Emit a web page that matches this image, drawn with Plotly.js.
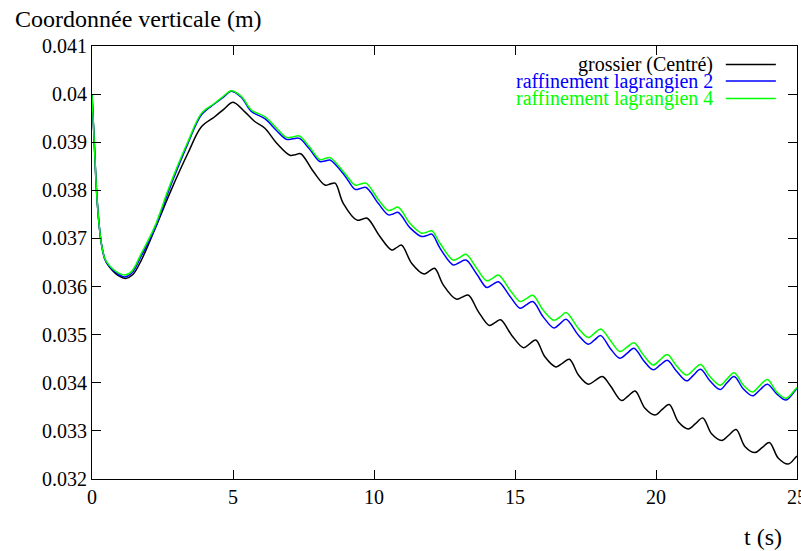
<!DOCTYPE html>
<html>
<head>
<meta charset="utf-8">
<script src="https://cdn.plot.ly/plotly-3.0.1.min.js"></script>
<style>html,body{margin:0;padding:0;background:#fff;}#chart{width:801px;height:551px;}</style>
</head>
<body>
<div id="chart"></div>
<script>
// Series names
const seriesNames = ["grossier (Centré)", "raffinement lagrangien 2", "raffinement lagrangien 4"];
const seriesColors = ["#000000", "#0000ff", "#00ff00"];

// grossier (Centré)
const tGros = [0, 0.08, 0.16, 0.25, 0.33, 0.45, 0.6, 0.75, 0.95, 1.19, 1.45, 1.75, 2.22, 2.81, 3.40, 3.88, 4.35, 4.70, 5.0, 5.42, 5.77, 6.13, 6.55, 7.02, 7.21, 7.4, 7.85, 8.26, 8.44, 8.62, 8.91, 9.4, 9.58, 9.76, 10.21, 10.63, 10.8, 10.98, 11.34, 11.78, 11.96, 12.15, 12.46, 12.91, 13.13, 13.35, 13.7, 14.09, 14.29, 14.49, 14.88, 15.3, 15.52, 15.74, 16.06, 16.45, 16.69, 16.93, 17.25, 17.6, 17.85, 18.1, 18.37, 18.78, 19.02, 19.26, 19.61, 19.96, 20.21, 20.47, 20.79, 21.15, 21.4, 21.66, 21.97, 22.33, 22.58, 22.84, 23.16, 23.51, 23.76, 24.02, 24.34, 24.69, 24.95, 25.0];
const vGros = [0.0400, 0.0390, 0.0380, 0.0373, 0.0369, 0.03658, 0.03642, 0.03632, 0.03622, 0.03617, 0.03625, 0.03655, 0.03718, 0.03801, 0.03877, 0.03932, 0.03953, 0.03970, 0.03983, 0.03963, 0.03943, 0.03929, 0.03898, 0.03873, 0.03874, 0.03876, 0.03839, 0.03811, 0.03813, 0.03815, 0.03773, 0.03738, 0.03740, 0.03742, 0.03704, 0.03676, 0.03681, 0.03686, 0.03648, 0.03626, 0.03632, 0.03638, 0.03603, 0.03574, 0.03578, 0.03582, 0.03548, 0.03519, 0.03525, 0.03531, 0.03499, 0.03473, 0.03481, 0.03489, 0.03454, 0.03433, 0.03441, 0.03449, 0.03416, 0.03397, 0.03405, 0.03413, 0.03395, 0.03363, 0.03373, 0.03383, 0.03347, 0.03333, 0.03344, 0.03355, 0.03319, 0.03304, 0.03315, 0.03327, 0.03294, 0.03280, 0.03291, 0.03303, 0.03267, 0.03255, 0.03265, 0.03276, 0.03243, 0.03231, 0.03245, 0.03248];

// raffinement lagrangien 2
const tRaf2 = [0, 0.08, 0.16, 0.25, 0.33, 0.45, 0.6, 0.75, 0.95, 1.16, 1.40, 1.75, 2.22, 2.70, 3.05, 3.40, 3.88, 4.35, 4.65, 4.94, 5.30, 5.65, 6.13, 6.55, 6.9, 7.12, 7.35, 7.7, 8.08, 8.26, 8.44, 8.97, 9.33, 9.52, 9.72, 10.15, 10.51, 10.68, 10.86, 11.28, 11.69, 11.87, 12.05, 12.34, 12.81, 13.03, 13.26, 13.64, 14.0, 14.2, 14.41, 14.82, 15.18, 15.4, 15.63, 16.0, 16.38, 16.6, 16.81, 17.25, 17.6, 17.82, 18.04, 18.37, 18.72, 18.97, 19.22, 19.55, 19.9, 20.15, 20.4, 20.73, 21.09, 21.33, 21.58, 21.91, 22.27, 22.52, 22.77, 23.1, 23.42, 23.68, 23.95, 24.28, 24.61, 24.95, 25.0];
const vRaf2 = [0.0400, 0.0390, 0.0380, 0.0373, 0.0369, 0.03658, 0.03643, 0.03634, 0.03625, 0.03620, 0.03627, 0.03664, 0.03719, 0.03796, 0.03848, 0.03897, 0.03957, 0.03980, 0.03993, 0.04006, 0.03993, 0.03964, 0.03949, 0.03924, 0.03906, 0.03907, 0.03908, 0.03887, 0.03860, 0.03861, 0.03863, 0.03830, 0.03802, 0.03804, 0.03806, 0.03773, 0.03749, 0.03751, 0.03754, 0.03722, 0.03704, 0.03706, 0.03709, 0.03680, 0.03645, 0.03650, 0.03655, 0.03626, 0.03598, 0.03604, 0.03610, 0.03580, 0.03555, 0.03562, 0.03569, 0.03537, 0.03514, 0.03523, 0.03532, 0.03499, 0.03480, 0.03489, 0.03498, 0.03472, 0.03451, 0.03461, 0.03472, 0.03447, 0.03427, 0.03437, 0.03447, 0.03424, 0.03404, 0.03416, 0.03428, 0.03404, 0.03386, 0.03400, 0.03413, 0.03387, 0.03373, 0.03385, 0.03397, 0.03377, 0.03364, 0.03385, 0.03388];

// raffinement lagrangien 4
const tRaf4 = [0, 0.08, 0.16, 0.25, 0.33, 0.45, 0.6, 0.75, 0.95, 1.16, 1.40, 1.75, 2.22, 2.70, 3.05, 3.40, 3.88, 4.35, 4.65, 4.94, 5.30, 5.65, 6.13, 6.55, 6.9, 7.12, 7.35, 7.7, 8.08, 8.26, 8.44, 8.97, 9.33, 9.52, 9.72, 10.15, 10.51, 10.68, 10.86, 11.28, 11.69, 11.87, 12.05, 12.34, 12.81, 13.03, 13.26, 13.64, 14.0, 14.2, 14.41, 14.82, 15.18, 15.4, 15.63, 16.0, 16.38, 16.6, 16.81, 17.25, 17.6, 17.82, 18.04, 18.37, 18.72, 18.97, 19.22, 19.55, 19.9, 20.15, 20.4, 20.73, 21.09, 21.33, 21.58, 21.91, 22.27, 22.52, 22.77, 23.1, 23.42, 23.68, 23.95, 24.28, 24.61, 24.95, 25.0];
const vRaf4 = [0.0400, 0.0390, 0.0380, 0.0373, 0.0369, 0.03659, 0.03645, 0.03636, 0.03628, 0.03624, 0.03631, 0.03669, 0.03724, 0.03801, 0.03853, 0.03901, 0.03960, 0.03981, 0.03995, 0.04007, 0.03995, 0.03967, 0.03953, 0.03929, 0.03910, 0.03911, 0.03913, 0.03891, 0.03864, 0.03866, 0.03868, 0.03835, 0.03811, 0.03813, 0.03815, 0.03781, 0.03758, 0.03761, 0.03765, 0.03731, 0.03711, 0.03713, 0.03716, 0.03690, 0.03655, 0.03660, 0.03667, 0.03638, 0.03612, 0.03617, 0.03624, 0.03593, 0.03569, 0.03575, 0.03582, 0.03551, 0.03530, 0.03537, 0.03546, 0.03513, 0.03494, 0.03503, 0.03512, 0.03489, 0.03465, 0.03474, 0.03483, 0.03458, 0.03437, 0.03448, 0.03459, 0.03435, 0.03416, 0.03427, 0.03438, 0.03413, 0.03395, 0.03408, 0.03421, 0.03395, 0.03381, 0.03394, 0.03407, 0.03381, 0.03368, 0.03387, 0.03390];

const xTickVals = [0, 5, 10, 15, 20, 25];
const yTickVals = [0.032, 0.033, 0.034, 0.035, 0.036, 0.037, 0.038, 0.039, 0.04, 0.041];
const yTickText = ["0.032", "0.033", "0.034", "0.035", "0.036", "0.037", "0.038", "0.039", "0.04", "0.041"];
const yTitle = "Coordonnée verticale (m)";
const xTitle = "t (s)";

const FONT = "Liberation Serif";
const xs = [tGros, tRaf2, tRaf4];
const ys = [vGros, vRaf2, vRaf4];

const traces = xs.map((x, i) => ({
  x: x, y: ys[i], type: "scatter", mode: "lines", name: seriesNames[i],
  line: {color: seriesColors[i], width: 1.5, shape: "spline", smoothing: 1},
  showlegend: false, cliponaxis: true
}));

// Legend (right-aligned text, sample line on the right, like the original)
const legY = [0.957, 0.919, 0.879];
const annotations = seriesNames.map((n, i) => ({
  xref: "paper", yref: "paper", x: 0.8837, y: legY[i], xanchor: "right", yanchor: "middle",
  text: n, showarrow: false, font: {family: FONT, size: 20, color: seriesColors[i]}
}));
const shapes = seriesNames.map((n, i) => ({
  type: "line", xref: "paper", yref: "paper", x0: 0.899, x1: 0.970, y0: legY[i], y1: legY[i],
  line: {color: seriesColors[i], width: 1.5}
}));
annotations.push({xref: "paper", yref: "paper", x: -0.112, y: 1.062, xanchor: "left", yanchor: "middle",
  text: yTitle, showarrow: false, font: {family: FONT, size: 24, color: "#000"}});
annotations.push({xref: "paper", yref: "paper", x: 0.952, y: -0.134, xanchor: "center", yanchor: "middle",
  text: xTitle, showarrow: false, font: {family: FONT, size: 24, color: "#000"}});

const layout = {
  width: 801, height: 551,
  margin: {l: 92, r: 4, t: 46, b: 72, pad: 0},
  paper_bgcolor: "#fff", plot_bgcolor: "#fff",
  font: {family: FONT, size: 20, color: "#000"},
  showlegend: false,
  xaxis: {range: [0, 25], tickvals: xTickVals, ticks: "inside", ticklen: 9, tickwidth: 1, tickcolor: "#000",
    showline: true, linecolor: "#000", linewidth: 1, mirror: "ticks", showgrid: false, zeroline: false,
    ticklabeloverflow: "allow",
    tickfont: {family: FONT, size: 20, color: "#000"}},
  yaxis: {range: [0.032, 0.041], tickvals: yTickVals, ticktext: yTickText, ticks: "inside", ticklen: 9, tickwidth: 1,
    tickcolor: "#000", showline: true, linecolor: "#000", linewidth: 1, mirror: "ticks", showgrid: false, zeroline: false,
    tickfont: {family: FONT, size: 20, color: "#000"}},
  annotations: annotations,
  shapes: shapes
};

Plotly.newPlot("chart", traces, layout, {displayModeBar: false, staticPlot: true});
</script>
</body>
</html>
